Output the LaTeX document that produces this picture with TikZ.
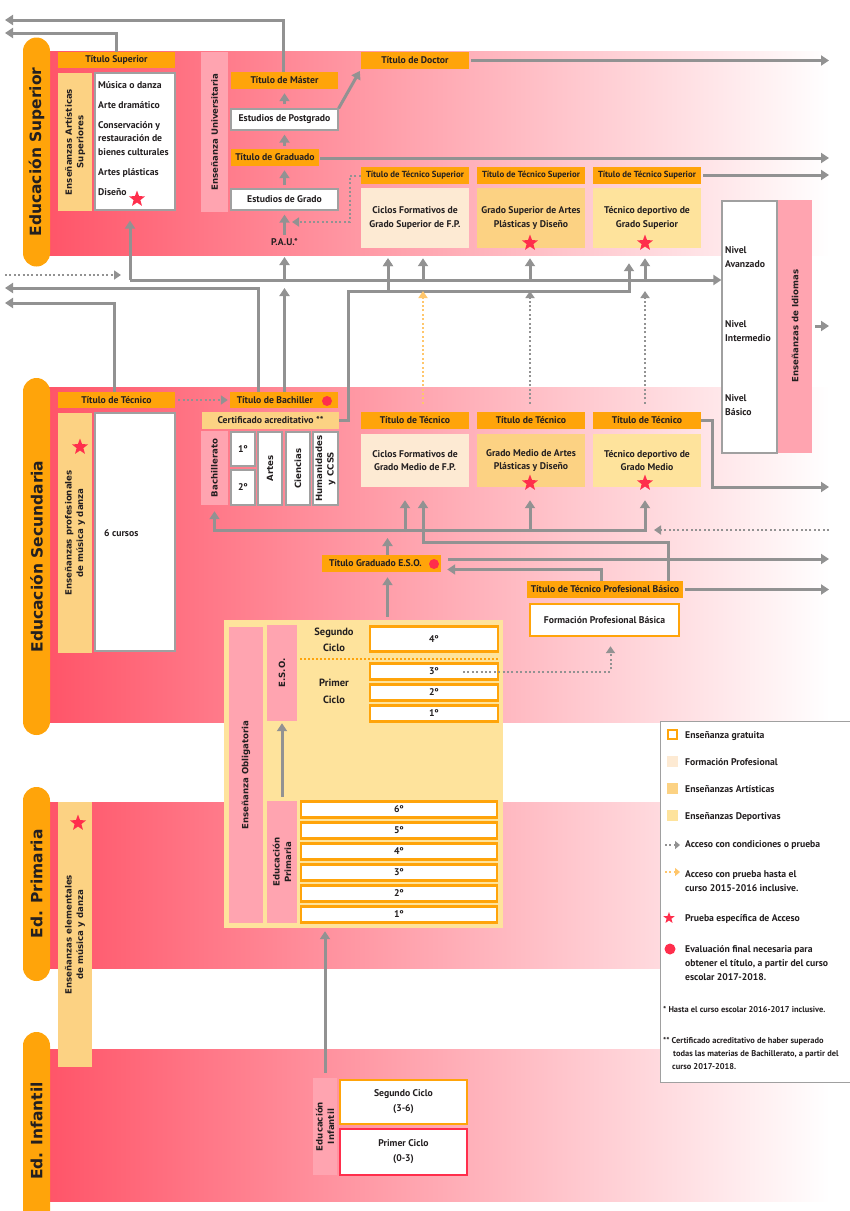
\documentclass[tikz,border=0pt]{standalone}
\usepackage{fontspec}
\setmainfont{PT Sans}
\newfontfamily\vfont{DejaVu Sans}
\usetikzlibrary{arrows.meta,shapes.geometric,calc}

\definecolor{naranja}{HTML}{FFA40A}
\definecolor{naranjaC}{HTML}{FFC66B}
\definecolor{fpcol}{HTML}{FDEAD3}
\definecolor{artcol}{HTML}{FCD283}
\definecolor{depcol}{HTML}{FEE39C}
\definecolor{rosa}{HTML}{FFA4B0}
\definecolor{banda}{HTML}{FF5468}
\definecolor{gris}{HTML}{929292}
\definecolor{borde}{HTML}{A0A0A0}
\definecolor{rojo}{HTML}{FF2E4C}
\definecolor{texto}{HTML}{231F20}

\newcommand\tfont{\fontsize{9.7}{13.5}\selectfont\bfseries}
\newcommand\tsfont{\fontsize{8.8}{10}\selectfont\bfseries}
\newcommand\vtfont{\vfont\fontsize{8.6}{11.5}\selectfont\bfseries}
\newcommand\pfont{\vfont\fontsize{15.5}{18}\selectfont\bfseries}
\newcommand\lfont{\fontsize{9.7}{14}\selectfont\bfseries}
\newcommand\nfont{\fontsize{8.4}{13}\selectfont\bfseries}

\tikzset{punta/.tip={Triangle[length=8pt,width=10pt]}}

\begin{document}
\begin{tikzpicture}[x=1pt, y=-1pt, text=texto,
	titulo/.style={fill=naranja, inner sep=0, minimum height=17pt, font=\tfont, align=center},
	caja/.style={inner sep=0, font=\tfont, align=center},
	blanco/.style={caja, draw=borde, line width=1.2pt, fill=white},
	gratis/.style={caja, draw=naranja, line width=2.4pt, fill=white},
	etiqueta/.style={fill=rosa, rotate=90, inner sep=0, font=\vtfont, align=center},
	seccion/.style={fill=naranja, rotate=90, rounded corners=13.5pt, minimum height=27pt, inner sep=0, font=\pfont},
	flecha/.style={draw=gris, line width=3pt, -punta},
	doble/.style={draw=gris, line width=3pt, punta-punta},
	punteada/.style={draw=gris, line width=2pt, dash pattern=on 2pt off 2.4pt, -{Triangle[length=7pt,width=9pt]}},
	punteadaN/.style={punteada, draw=naranjaC},
	estrella/.style={star, star points=5, star point ratio=2.4, fill=rojo, inner sep=0, minimum size=17pt},
	punto/.style={circle, fill=rojo, inner sep=0, minimum size=10pt},
	leyenda/.style={font=\lfont, anchor=west, align=left, inner sep=0}
]
\useasboundingbox (0,0) rectangle (850,1211);

% bandas
\shade[left color=banda, right color=white] (45,51) rectangle (830,255);
\shade[left color=banda, right color=white] (45,387) rectangle (830,722);
\shade[left color=banda, right color=white] (45,802) rectangle (830,968);
\shade[left color=banda, right color=white] (45,1049) rectangle (830,1201);

\node[seccion, minimum width=229pt] (edSup) at (36.5,152) {Educación Superior};
\node[seccion, minimum width=357pt] (edSec) at (36.5,556.5) {Educación Secundaria};
\node[seccion, minimum width=194pt] (edPri) at (36.5,884) {Ed. Primaria};
\node[seccion, minimum width=198pt] (edInf) at (36.5,1131) {Ed. Infantil};

% educacion superior
\node[titulo, minimum width=117pt, minimum height=16pt] (titSup) at (116.5,60) {Título Superior};
\node[etiqueta, fill=artcol, minimum width=138pt, minimum height=34pt] (artSup) at (75,142) {Enseñanzas Artísticas\\Superiores};
\node[blanco, minimum width=80pt, minimum height=137pt] (artList) at (135,141.5) {};
\node[anchor=north west, align=left, inner sep=0, font=\tfont] (artTxt) at (98,81) {Música o danza\\[6.5pt]Arte dramático\\[6.5pt]Conservación y\\restauración de\\bienes culturales\\[6.5pt]Artes plásticas\\[6.5pt]Diseño};
\node[estrella] (estDis) at (137,199) {};

\node[etiqueta, minimum width=160pt, minimum height=27pt] (uni) at (214.5,132) {Enseñanza Universitaria};
\node[titulo, minimum width=107pt] (master) at (284.5,80.5) {Título de Máster};
\node[blanco, minimum width=107pt, minimum height=21pt] (postg) at (284.5,119.5) {Estudios de Postgrado};
\node[titulo, minimum width=88pt] (grad) at (275,157.5) {Título de Graduado};
\node[blanco, minimum width=107pt, minimum height=21pt] (estGr) at (284.5,199.5) {Estudios de Grado};
\node[caja, inner sep=1pt] (pau) at (284.5,242) {P.A.U.*};
\node[titulo, minimum width=108pt] (doctor) at (415,60.5) {Título de Doctor};

\foreach \n/\x/\c/\t in {1/415/fpcol/{Ciclos Formativos de\\Grado Superior de F.P.},
		2/531/artcol/{Grado Superior de Artes\\Plásticas y Diseño},
		3/647/depcol/{Técnico deportivo de\\Grado Superior}}{
	\node[titulo, minimum width=108pt, font=\tsfont] (ts\n) at (\x,175.5) {Título de Técnico Superior};
	\node[caja, fill=\c, minimum width=108pt, minimum height=60pt] (cs\n) at (\x,218) {\t};
}
\node[estrella] (estAS) at (530,243) {};
\node[estrella] (estDS) at (645,243) {};

% idiomas
\node[blanco, minimum width=55pt, minimum height=252pt] (idi) at (749.5,327) {};
\node[etiqueta, minimum width=253pt, minimum height=34pt] (idiV) at (795,326) {Enseñanzas de Idiomas};
\node[leyenda, font=\tfont] (nAv) at (725,257) {Nivel\\Avanzado};
\node[leyenda, font=\tfont] (nIn) at (725,331) {Nivel\\Intermedio};
\node[leyenda, font=\tfont] (nBa) at (725,405) {Nivel\\Básico};

% educacion secundaria
\node[titulo, minimum width=117pt, minimum height=16pt] (titTec) at (116.5,400) {Título de Técnico};
\node[etiqueta, fill=artcol, minimum width=240pt, minimum height=34pt] (artProf) at (75,533) {Enseñanzas profesionales\\de música y danza};
\node[estrella] (estProf) at (80,447) {};
\node[blanco, minimum width=80pt, minimum height=238pt] (seis) at (135,532) {};
\node[caja, anchor=west] (seisTxt) at (104,533) {6 cursos};

\node[titulo, minimum width=108pt, minimum height=16pt] (bachT) at (284,400) {Título de Bachiller\hspace*{18pt}};
\node[punto] (ptBach) at (327,401) {};
\node[titulo, fill=artcol, minimum width=137pt] (cert) at (270.5,420.5) {Certificado acreditativo **};
\node[etiqueta, minimum width=74pt, minimum height=27pt] (bachV) at (214.5,468) {Bachillerato};
\node[blanco, minimum width=24pt, minimum height=34pt] (b1) at (243,449) {1º};
\node[blanco, minimum width=24pt, minimum height=35pt] (b2) at (243,487.5) {2º};
\node[blanco, rotate=90, font=\vtfont, minimum width=73pt, minimum height=24pt] (artes) at (270,468.5) {Artes};
\node[blanco, rotate=90, font=\vtfont, minimum width=73pt, minimum height=24pt] (cien) at (298,468.5) {Ciencias};
\node[blanco, rotate=90, font=\vtfont, minimum width=73pt, minimum height=25pt] (human) at (325.5,468.5) {Humanidades\\y CCSS};

\foreach \n/\x/\c/\t in {1/415/fpcol/{Ciclos Formativos de\\Grado Medio de F.P.},
		2/531/artcol/{Grado Medio de Artes\\Plásticas y Diseño},
		3/647/depcol/{Técnico deportivo de\\Grado Medio}}{
	\node[titulo, minimum width=108pt] (tm\n) at (\x,420.5) {Título de Técnico};
	\node[caja, fill=\c, minimum width=108pt, minimum height=53pt] (cm\n) at (\x,460.5) {\t};
}
\node[estrella] (estAM) at (530,483) {};
\node[estrella] (estDM) at (645,483) {};

\node[titulo, minimum width=119pt] (esoT) at (381.5,563.5) {Título Graduado E.S.O.\hspace*{12pt}};
\node[punto] (ptEso) at (434,564) {};
\node[titulo, minimum width=156pt] (tpbT) at (605,589.5) {Título de Técnico Profesional Básico};
\node[gratis, minimum width=149pt, minimum height=32pt] (fpb) at (604.5,620) {Formación Profesional Básica};

% ensenanza obligatoria
\node[fill=depcol, minimum width=279pt, minimum height=308pt, inner sep=0] (oblig) at (363.5,774) {};
\node[etiqueta, minimum width=296pt, minimum height=34pt] (obligV) at (246,775) {Enseñanza Obligatoria};
\node[etiqueta, minimum width=96pt, minimum height=30pt] (esoV) at (282,673) {E.S.O.};
\node[etiqueta, minimum width=122pt, minimum height=30pt] (primV) at (282,862) {Educación\\Primaria};
\node[caja, font=\fontsize{10.5}{16.5}\selectfont\bfseries] (segC) at (334,640) {Segundo\\Ciclo};
\node[caja, font=\fontsize{10.5}{16.5}\selectfont\bfseries] (priC) at (334,691.5) {Primer\\Ciclo};
\node[gratis, minimum width=128pt, minimum height=25pt] (e4) at (434,639) {4º};
\draw[naranja, line width=2pt, dash pattern=on 2pt off 2pt] (300,659) -- (498,659);
\foreach \n/\y in {3/671.5,2/692.5,1/713.5}
	\node[gratis, minimum width=128pt, minimum height=16pt] (e\n) at (434,\y) {\n º};
\foreach \n/\y in {6/809.5,5/830.5,4/851.5,3/872.5,2/893.5,1/914.5}
	\node[gratis, minimum width=196pt, minimum height=16pt] (p\n) at (399,\y) {\n º};

% primaria e infantil
\node[etiqueta, fill=artcol, minimum width=265pt, minimum height=34pt] (artElem) at (75,934.5) {Enseñanzas elementales\\de música y danza};
\node[estrella] (estElem) at (78,823) {};
\node[etiqueta, minimum width=97pt, minimum height=24pt] (infV) at (325,1126.5) {Educación\\Infantil};
\node[gratis, minimum width=127pt, minimum height=44pt, font=\fontsize{9.7}{15}\selectfont\bfseries] (inf2) at (403.5,1102) {Segundo Ciclo\\(3-6)};
\node[blanco, draw=rojo, line width=1.5pt, minimum width=127pt, minimum height=46pt, font=\fontsize{9.7}{15}\selectfont\bfseries] (inf1) at (403.5,1152) {Primer Ciclo\\(0-3)};

% conexiones superior
\coordinate (outMas) at (5,20);
\coordinate (outSup) at (5,33);
\coordinate (outDoc) at (829,60.5);
\coordinate (outGrad) at (829,158);
\coordinate (outTS) at (829,175);
\coordinate (pauDot) at (292,222);
\draw[flecha] ($(master.north)+(-1.5,0)$) |- (outMas);
\draw[flecha] (titSup.north) |- (outSup);
\draw[flecha, shorten <=4pt, shorten >=4pt] (postg) -- (postg |- master.south);
\draw[flecha, shorten <=3pt, shorten >=4pt] (grad.north -| postg) -- (postg.south);
\draw[flecha, shorten <=3pt, shorten >=4pt] (estGr) -- (estGr.north |- grad.south);
\draw[flecha, shorten <=2pt, shorten >=4pt] (pau) -- (estGr.south);
\draw[flecha, shorten >=2pt] (postg.north east) -- (doctor.south west);
\draw[flecha, shorten <=2pt] (doctor) -- (outDoc);
\draw[flecha, shorten <=1pt] (grad.east |- outGrad) -- (outGrad);
\draw[flecha, shorten <=2pt] (ts3.east |- outTS) -- (outTS);
\draw[punteada] (ts1.west) -- ++(-11,0) |- (pauDot);

% buses intermedios
\coordinate (bus1) at (130,280);
\coordinate (bus2) at (348,291);
\coordinate (outBach) at (5,288);
\coordinate (outTec) at (5,303);
\coordinate (inIzq) at (5,275);
\coordinate (inIzqF) at (121,275);
\draw[flecha] (bus1) -- (bus1 -| idi.west);
\draw[flecha, shorten >=10pt] (bus1) -- (bus1 |- artList.south);
\draw[flecha] (bus1 -| pau) -- ($(pau.center)+(0,15)$);
\foreach \n/\dx in {cs1/-27, cs1/8, cs2/-1, cs3/-2}
	\draw[flecha] ($(\n.south |- bus1)+(\dx,0)$) -- ($(\n.south)+(\dx,10)$);
\draw[flecha] (cert.east) -| (bus2) -| ($(cs3.south)+(-18,15)$);
\draw[flecha] ($(cs1.south |- bus2)+(-27,0)$) -- ($(cs1.south)+(-27,10)$);
\draw[flecha] ($(bachT.north)+(-26,0)$) |- (outBach);
\draw[flecha] ($(titTec.north)+(-2,0)$) |- (outTec);
\draw[flecha, shorten >=8pt] (bachT.north -| pau) -- (bus1 -| pau);
\draw[punteada] (inIzq) -- (inIzqF);
\draw[punteadaN] ($(tm1.north)+(8,-8)$) -- ($(tm1.north |- bus2)+(8,0)$);
\draw[punteada] ($(tm2.north)+(-1,-8)$) -- ($(tm2.north |- bus2)+(-1,0)$);
\draw[punteada] ($(tm3.north)+(-2,-8)$) -- ($(tm3.north |- bus2)+(-2,0)$);
\coordinate (outIdi) at (829,326);
\draw[flecha, shorten <=3pt] (idiV.south) -- (outIdi);

% conexiones secundaria
\coordinate (bus3) at (213,530);
\coordinate (bus4) at (423,542);
\coordinate (outEso) at (829,559);
\coordinate (outTpb) at (829,589.5);
\coordinate (outTm) at (829,487);
\coordinate (inDer) at (829,530);
\coordinate (inDerF) at (654,530);
\draw[punteada, shorten <=3pt, shorten >=2pt] (titTec) -- (bachT);
\draw[doble] ($(bachV.west)+(0,6)$) |- ($(cm3.south |- bus3)+(-2,0)$) -- ($(cm3.south)+(-2,13)$);
\draw[flecha] ($(cm1.south |- bus3)+(-10,0)$) -- ($(cm1.south)+(-10,13)$);
\draw[flecha] ($(cm2.south |- bus3)+(-1,0)$) -- ($(cm2.south)+(-1,13)$);
\draw[flecha, shorten >=8pt] ($(esoT.north)+(6,0)$) -- ($(esoT.north |- bus3)+(6,0)$);
\draw[flecha] ($(tpbT.north)+(63,0)$) |- (bus4) -- ($(cm1.south)+(8,13)$);
\draw[flecha] ($(tpbT.north)+(-4,0)$) |- ($(esoT.east)+(6,6)$);
\draw[flecha] ($(esoT.east)+(7,-4.5)$) -- (outEso);
\draw[flecha, shorten <=2pt] (tpbT) -- (outTpb);
\draw[flecha] (tm3.east) -- ++(11,0) |- (outTm);
\draw[punteada] (inDer) -- (inDerF);
\draw[punteada] ($(e3.center)+(29,0)$) -| ($(fpb.south)+(6,9)$);
\draw[flecha] ($(esoT.south |- oblig.north)+(6,-3)$) -- ($(esoT.south)+(6,5)$);
\draw[flecha, shorten <=4pt, shorten >=2pt] (primV.east) -- (esoV.west);
\draw[flecha, shorten <=5pt, shorten >=3pt] (infV.east) -- (infV.east |- oblig.south);

% leyenda
\node[draw=borde, line width=1pt, fill=white, minimum width=200pt, minimum height=361pt, inner sep=0] (ley) at (760.5,901.5) {};
\node[draw=naranja, line width=2pt, fill=white, minimum size=9pt, inner sep=0] (lg1) at (672,734.5) {};
\node[fill=fpcol, minimum size=11pt, inner sep=0] (lg2) at (672,761) {};
\node[fill=artcol, minimum size=11pt, inner sep=0] (lg3) at (672,788) {};
\node[fill=depcol, minimum size=11pt, inner sep=0] (lg4) at (672,815) {};
\coordinate (lg5a) at (665,845);
\coordinate (lg5b) at (680,845);
\coordinate (lg6a) at (665,872);
\coordinate (lg6b) at (680,872);
\draw[punteada, line width=1.6pt, -{Triangle[length=5pt,width=8pt]}] (lg5a) -- (lg5b);
\draw[punteadaN, line width=1.6pt, -{Triangle[length=5pt,width=8pt]}] (lg6a) -- (lg6b);
\node[estrella, minimum size=12pt] (lg7) at (669,918) {};
\node[punto, minimum size=11pt] (lg8) at (670,949) {};
\node[leyenda] (ly1) at (685,736) {Enseñanza gratuita};
\node[leyenda] (ly2) at (685,762) {Formación Profesional};
\node[leyenda] (ly3) at (685,789) {Enseñanzas Artísticas};
\node[leyenda] (ly4) at (685,817) {Enseñanzas Deportivas};
\node[leyenda] (ly5) at (685,845.5) {Acceso con condiciones o prueba};
\node[leyenda] (ly6) at (685,881) {Acceso con prueba hasta el\\curso 2015-2016 inclusive.};
\node[leyenda] (ly7) at (685,919) {Prueba específica de Acceso};
\node[leyenda] (ly8) at (685,963) {Evaluación final necesaria para\\obtener el título, a partir del curso\\escolar 2017-2018.};
\node[leyenda, font=\nfont] (ly9) at (663,1009) {* Hasta el curso escolar 2016-2017 inclusive.};
\node[leyenda, font=\nfont] (ly10) at (663,1053) {** Certificado acreditativo de haber superado\\\hspace*{10pt}todas las materias de Bachillerato, a partir del\\\hspace*{9pt}curso 2017-2018.};
\end{tikzpicture}
\end{document}
